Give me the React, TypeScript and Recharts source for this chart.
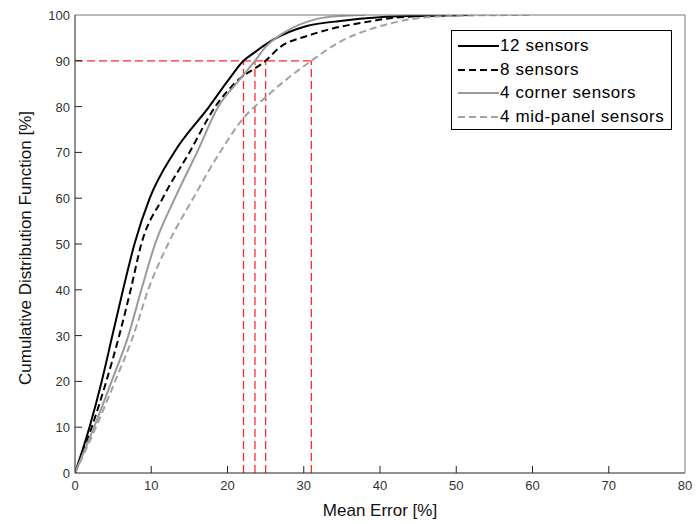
import React from "react"
import { LineChart, Line, XAxis, YAxis, Legend } from "recharts"

// tick values
const xTicks = [0, 10, 20, 30, 40, 50, 60, 70, 80]
const yTicks = [0, 10, 20, 30, 40, 50, 60, 70, 80, 90, 100]

// 12 sensors
const err12 = [0, 1.9, 3.5, 4.9, 6.3, 7.8, 9.8, 13.0, 17.6, 20.2, 22.1, 23.6, 26.0, 30.4, 34.8, 40.0, 45.0, 52.0]
const cdf12 = [0, 10, 20, 30, 40, 50, 60, 70, 80, 86, 90, 91.9, 94.6, 97.6, 98.7, 99.5, 99.8, 100]

// 8 sensors
const err8 = [0, 2.2, 4.1, 5.8, 7.3, 8.7, 11.5, 15.0, 18.4, 21.2, 25.0, 26.9, 30.4, 33.9, 38.3, 41.3, 46.0, 52.0]
const cdf8 = [0, 10, 20, 30, 40, 50, 60, 70, 80, 85.5, 90, 93, 95.4, 97.1, 98.5, 99.3, 99.8, 100]

// 4 corner sensors
const errCorner = [0, 2.5, 4.8, 7.0, 8.7, 10.5, 13.1, 16.0, 18.8, 21.4, 23.6, 25.1, 26.9, 30.4, 33.4, 38.0]
const cdfCorner = [0, 10, 20, 30, 40, 50, 60, 70, 80, 85.5, 90, 93.2, 95.6, 98.5, 99.6, 100]

// 4 mid-panel sensors
const errMid = [0, 2.75, 5.25, 7.65, 9.6, 12.2, 15.5, 19.0, 22.1, 25.1, 28.0, 31.0, 34.8, 39.1, 42.2, 46.1, 52.0, 60.0]
const cdfMid = [0, 10, 20, 30, 40, 50, 60, 70, 77.5, 82.2, 86.3, 90, 94.2, 97.1, 98.5, 99.5, 99.9, 100]

// 90% crossing markers
const level90 = 90
const cross90 = [22.1, 23.6, 25.0, 31.0]

const zip = (xs: number[], ys: number[]) => xs.map((x, i) => ({ x, y: ys[i] }))

const series = [
  { name: "12 sensors", data: zip(err12, cdf12), color: "#000000", dash: undefined, width: 2 },
  { name: "8 sensors", data: zip(err8, cdf8), color: "#000000", dash: "7 4", width: 2 },
  { name: "4 corner sensors", data: zip(errCorner, cdfCorner), color: "#9a9a9a", dash: undefined, width: 2 },
  { name: "4 mid-panel sensors", data: zip(errMid, cdfMid), color: "#a3a3a3", dash: "7 4", width: 2 },
]

// red guide lines: horizontal at 90% and verticals at each crossing
const guideH = [
  { x: 0, y: level90 },
  { x: Math.max(...cross90), y: level90 },
]
const guidesV = cross90.map((c) => [
  { x: c, y: 0 },
  { x: c, y: level90 },
])

const font = "'Liberation Sans', Arial, sans-serif"
const tickColor = "#333"
const red = "#ff2a2a"

const BottomTick = (props: any) => {
  const { x, y, payload } = props
  const v = payload.value
  return (
    <g>
      {v > 0 && v < 80 && <line x1={x} x2={x} y1={y - 5} y2={y - 12} stroke="#222" />}
      <text x={x} y={y + 12} textAnchor="middle" fontSize={13} fontFamily={font} fill={tickColor}>
        {v}
      </text>
    </g>
  )
}

const LeftTick = (props: any) => {
  const { x, y, payload } = props
  const v = payload.value
  return (
    <g>
      {v > 0 && v < 100 && <line x1={x + 5} x2={x + 12} y1={y} y2={y} stroke="#222" />}
      <text x={x} y={y + 5} textAnchor="end" fontSize={13} fontFamily={font} fill={tickColor}>
        {v}
      </text>
    </g>
  )
}

const TopTick = (props: any) => {
  const { x, y, payload } = props
  const v = payload.value
  if (v <= 0 || v >= 80) return <g />
  return <line x1={x} x2={x} y1={y} y2={y + 7} stroke="#555" />
}

const RightTick = (props: any) => {
  const { x, y, payload } = props
  const v = payload.value
  if (v <= 0 || v >= 100) return <g />
  return <line x1={x} x2={x - 7} y1={y} y2={y} stroke="#555" />
}

const renderLegend = () => (
  <div
    style={{
      width: 221,
      height: 100,
      border: "1px solid #000",
      background: "#fff",
      fontFamily: font,
      fontSize: 17,
      letterSpacing: 0.6,
      color: "#000",
      boxSizing: "border-box",
      paddingTop: 3,
    }}
  >
    {series.map((s) => (
      <div key={s.name} style={{ display: "flex", alignItems: "center", height: 23.8 }}>
        <svg width={48} height={10} style={{ marginLeft: 6 }}>
          <line x1={0} x2={41} y1={5} y2={5} stroke={s.color} strokeWidth={s.width} strokeDasharray={s.dash} />
        </svg>
        <span style={{ marginLeft: -6, lineHeight: "20px" }}>{s.name}</span>
      </div>
    ))}
  </div>
)

export default function App() {
  return (
    <div style={{ position: "absolute", left: 0, top: 0, background: "#fff" }}>
      <LineChart width={696} height={524} margin={{ top: 0, right: 0, bottom: 0, left: 0 }}>
        <XAxis
          xAxisId="x"
          dataKey="x"
          type="number"
          domain={[0, 80]}
          ticks={xTicks}
          height={51}
          tickSize={0}
          tickMargin={5}
          tick={<BottomTick />}
          axisLine={{ stroke: "#222" }}
          tickLine={false}
          allowDataOverflow
          label={(p: any) => {
            const vb = p.viewBox
            return (
              <text x={vb.x + vb.width / 2} y={516} textAnchor="middle" fontSize={17} fontFamily={font} fill="#111">
                Mean Error [%]
              </text>
            )
          }}
        />
        <XAxis
          xAxisId="top"
          orientation="top"
          type="number"
          domain={[0, 80]}
          ticks={xTicks}
          height={15}
          tickSize={0}
          tickMargin={0}
          tick={<TopTick />}
          axisLine={{ stroke: "#777" }}
          tickLine={false}
        />
        <YAxis
          yAxisId="y"
          type="number"
          domain={[0, 100]}
          ticks={yTicks}
          width={75}
          tickSize={0}
          tickMargin={5}
          tick={<LeftTick />}
          axisLine={{ stroke: "#222" }}
          tickLine={false}
          allowDataOverflow
          label={(p: any) => {
            const vb = p.viewBox
            const cx = 25
            const cy = vb.y + vb.height / 2 + 4
            return (
              <text
                x={cx}
                y={cy}
                transform={`rotate(-90 ${cx} ${cy})`}
                textAnchor="middle"
                dominantBaseline="central"
                fontSize={17}
                fontFamily={font}
                fill="#111"
              >
                Cumulative Distribution Function [%]
              </text>
            )
          }}
        />
        <YAxis
          yAxisId="right"
          orientation="right"
          type="number"
          domain={[0, 100]}
          ticks={yTicks}
          width={11}
          tickSize={0}
          tickMargin={0}
          tick={<RightTick />}
          axisLine={{ stroke: "#777" }}
          tickLine={false}
        />
        <Line
          xAxisId="x"
          yAxisId="y"
          data={guideH}
          dataKey="y"
          type="linear"
          stroke={red}
          strokeWidth={1.3}
          strokeDasharray="8 4"
          dot={false}
          activeDot={false}
          isAnimationActive={false}
        />
        {guidesV.map((g, i) => (
          <Line
            key={"v" + i}
            xAxisId="x"
            yAxisId="y"
            data={g}
            dataKey="y"
            type="linear"
            stroke={red}
            strokeWidth={1.3}
            strokeDasharray="8 4"
            dot={false}
            activeDot={false}
            isAnimationActive={false}
          />
        ))}
        {series.map((s) => (
          <Line
            key={s.name}
            xAxisId="x"
            yAxisId="y"
            data={s.data}
            dataKey="y"
            name={s.name}
            type="monotone"
            stroke={s.color}
            strokeWidth={s.width}
            strokeDasharray={s.dash}
            dot={false}
            activeDot={false}
            isAnimationActive={false}
          />
        ))}
        <Legend
          layout="vertical"
          align="center"
          verticalAlign="middle"
          content={renderLegend}
          wrapperStyle={{ position: "absolute", left: 451, top: 30, width: 222, height: 100 }}
        />
      </LineChart>
    </div>
  )
}
